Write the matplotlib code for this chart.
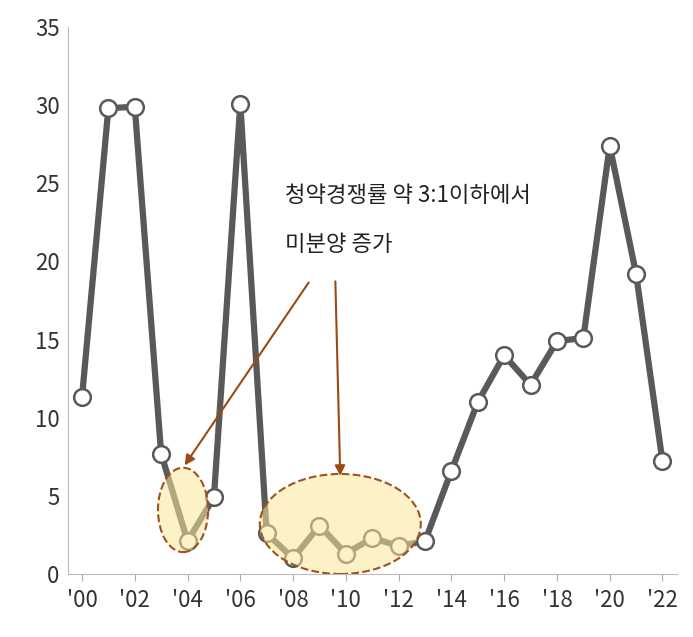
import matplotlib
matplotlib.use("Agg")
import matplotlib.pyplot as plt
from matplotlib.patches import Ellipse

plt.rcParams['font.family'] = ['Noto Sans CJK KR', 'DejaVu Sans']

years = list(range(2000, 2023))
values = [11.3, 29.8, 29.9, 7.7, 2.1, 4.9, 30.1, 2.6, 1.0, 3.1, 1.3, 2.3, 1.8, 2.1,
          6.6, 11.0, 14.0, 12.1, 14.9, 15.1, 27.4, 19.2, 7.2]
tick_years = list(range(2000, 2023, 2))
tick_labels = ["'%02d" % (y % 100) for y in tick_years]

fig = plt.figure(figsize=(6.93, 6.37), dpi=100)
ax = fig.add_axes([68/693, 63/637, 609/693, 547/637])

ax.plot(years, values, color='#595959', linewidth=4.5, marker='o', markersize=12,
        markerfacecolor='white', markeredgecolor='#595959', markeredgewidth=1.8, zorder=3)

ax.add_patch(Ellipse((2003.83, 4.1), 1.9, 5.4, facecolor=(0.99, 0.91, 0.6, 0.55), edgecolor='#a0521e',
                     linestyle='--', linewidth=1.5, zorder=4))
ax.add_patch(Ellipse((2009.79, 3.2), 6.1, 6.4, facecolor=(0.99, 0.91, 0.6, 0.55), edgecolor='#a0521e',
                     linestyle='--', linewidth=1.5, zorder=4))

ax.annotate('', xy=(2003.83, 6.8), xytext=(2008.65, 18.8),
            arrowprops=dict(arrowstyle='-|>', color='#9c4a14', lw=1.5, mutation_scale=15), zorder=5)
ax.annotate('', xy=(2009.79, 6.1), xytext=(2009.6, 18.9),
            arrowprops=dict(arrowstyle='-|>', color='#9c4a14', lw=1.5, mutation_scale=15), zorder=5)
ax.text(2007.7, 24.2, '청약경쟁률 약 3:1이하에서', fontsize=16, color='#222222', va='center')
ax.text(2007.7, 21.1, '미분양 증가', fontsize=16, color='#222222', va='center')

ax.set_xlim(1999.47, 2022.55)
ax.set_ylim(0, 35)
ax.set_yticks(range(0, 36, 5))
ax.set_xticks(tick_years)
ax.set_xticklabels(tick_labels)
ax.tick_params(labelsize=16, colors='#333333', length=0, pad=6)
ax.tick_params(axis='x', length=5, direction='out', color='#aaaaaa')
for s in ['top', 'right']:
    ax.spines[s].set_visible(False)
for s in ['left', 'bottom']:
    ax.spines[s].set_color('#bbbbbb')

fig.savefig('out.png', dpi=100)
